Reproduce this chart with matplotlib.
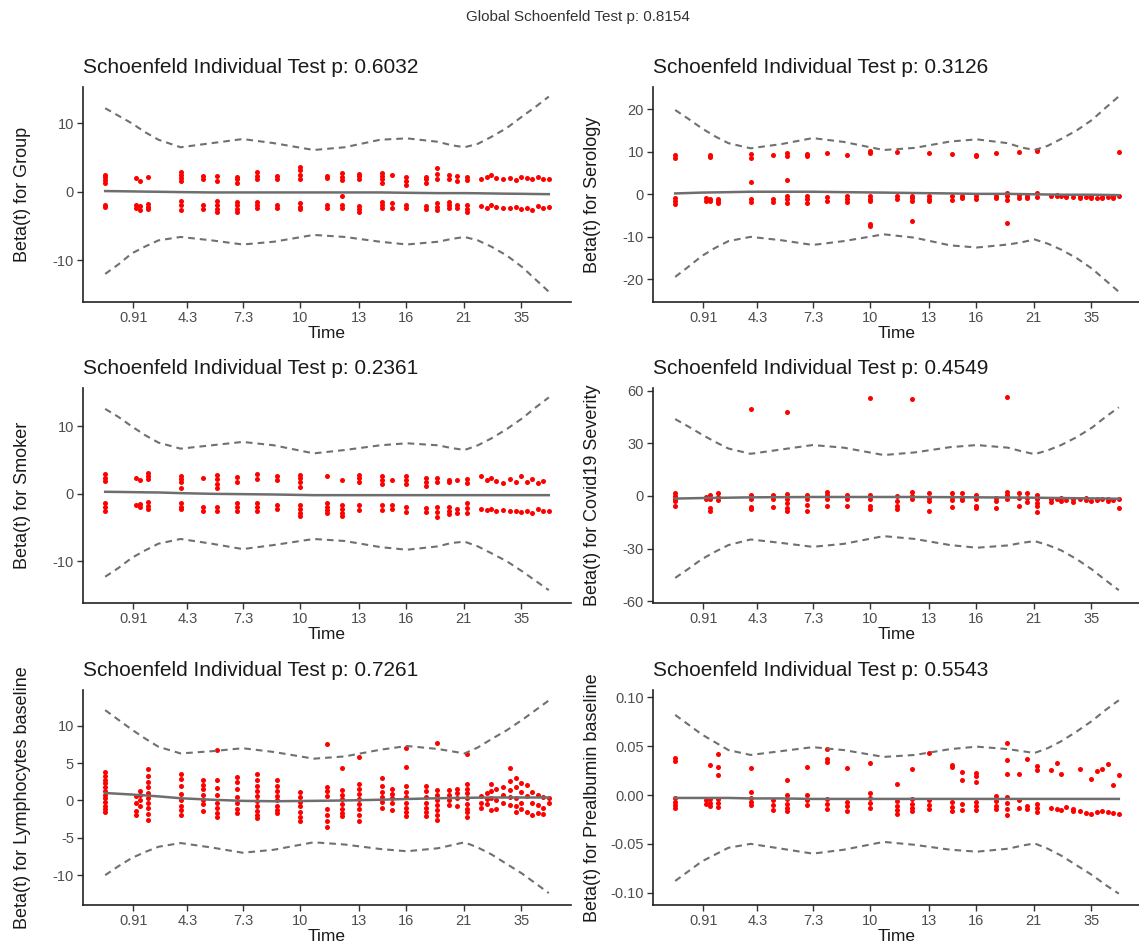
import numpy as np
import matplotlib
matplotlib.use("Agg")
import matplotlib.pyplot as plt

plt.rcParams['font.family'] = ['Liberation Sans', 'DejaVu Sans']
plt.rcParams['axes.unicode_minus'] = False

global_p = "0.8154"

# event times on the transformed (km) time axis, 0 = first event, 100 = last event
event_pos = [0, 7.0, 7.8, 9.7, 17.0, 22.0, 25.3, 29.8, 34.2, 38.7, 44.0, 50.0, 53.3,
             57.2, 62.3, 64.6, 67.9, 72.4, 74.9, 77.4, 79.4, 81.5, 84.8, 86.0, 87.0,
             88.2, 89.7, 91.2, 92.7, 93.8, 95.0, 96.3, 97.5, 98.8, 100]
tick_pos = [6.3, 18.5, 31.1, 44.0, 57.2, 67.9, 80.8, 93.8]
tick_labels = ["0.91", "4.3", "7.3", "10", "13", "16", "21", "35"]

# positions where the spline fit and its bands were read
curve_pos = [0, 3, 6, 9, 12, 17, 24, 31, 38, 47, 54, 62, 68, 75, 78, 81, 84, 87, 90.5, 94, 97, 100]

covariates = ["Group", "Serology", "Smoker", "Covid19 Severity",
              "Lymphocytes baseline", "Prealbumin baseline"]
p_values = ["0.6032", "0.3126", "0.2361", "0.4549", "0.7261", "0.5543"]

# scaled Schoenfeld residuals, one list per event time
resid_group = [
    [1.3, 1.7, 2.1, 2.5, -2.0, -2.2], [2.0, -1.9, -2.4], [1.5, -2.1, -2.6],
    [2.1, -1.8, -2.2, -2.5], [1.5, 2.0, 2.5, 2.9, -1.3, -2.0, -2.6], [1.9, 2.3, -2.0, -2.5],
    [1.6, 2.3, -1.3, -1.9, -2.5, -2.9], [1.3, 1.8, 2.2, -1.5, -2.0, -2.5, -2.9],
    [1.8, 2.3, 2.9, -1.5, -2.0, -2.4], [1.8, 2.3, -1.9, -2.3],
    [1.8, 2.4, 3.2, 3.6, -1.6, -2.2, -2.5], [2.0, 2.3, -1.9, -2.4],
    [1.7, 2.2, 2.7, -0.6, -2.0, -2.3], [1.8, 2.3, 2.6, -2.1, -2.5, -2.9],
    [1.3, 1.8, 2.3, 2.7, -1.5, -2.0, -2.4], [2.5, -1.7, -2.3], [1.0, 1.6, 2.2, -1.9, -2.3],
    [1.3, 1.8, 2.1, -2.1, -2.5], [1.8, 2.6, 3.5, -1.7, -2.2, -2.6], [1.8, 2.4, -1.5, -2.0, -2.3],
    [1.6, 2.3, -2.0, -2.4], [1.7, 2.1, -2.0, -2.5, -2.9],
    [1.9, -2.1], [2.2, -2.3], [2.5, -2.0], [2.0, -2.2], [1.8, -2.4], [2.0, -2.3], [1.7, -2.2],
    [2.1, -2.5], [2.0, -2.3], [1.8, -2.6], [2.2, -2.1], [1.9, -2.4], [1.9, -2.2]]
resid_serology = [
    [8.6, 9.2, -0.8, -1.5, -2.3], [-0.9, -1.5], [8.8, 9.3, -1.0, -1.6], [-1.0, -1.5, -2.1],
    [8.6, 9.4, 2.8, -1.0, -1.7], [9.3, -1.0, -1.9], [9.0, 9.6, 3.4, -0.5, -1.2, -2.0],
    [9.1, 9.5, -0.5, -1.2, -2.0], [9.7, -0.6, -1.6], [9.3, -0.4, -1.2, -1.7],
    [9.7, 10.1, -0.3, -1.0, -1.6, -7.0, -7.4], [10.0, -0.3, -1.1], [-0.3, -0.9, -1.6, -6.3],
    [9.8, -0.3, -1.0, -1.6], [9.4, -0.4, -1.4], [-0.4, -0.9], [8.9, 9.3, -0.3, -1.2],
    [9.6, -0.3, -0.8], [0.2, -0.5, -1.4, -6.7], [10.0, -0.2, -0.9], [-0.3, -0.8],
    [10.1, 10.3, 0.2, -0.6],
    [-0.3], [-0.5, -0.2], [-0.4], [-0.3, -0.7], [-0.6], [-0.4, -0.8], [-0.7], [-0.5, -0.9],
    [-0.8], [-0.9, -0.6], [-0.7], [-0.5, -0.8], [10.0, -0.4]]
resid_smoker = [
    [1.9, 2.4, 2.9, -1.3, -1.9, -2.5], [2.3, -1.6], [2.0, -1.5, -1.9],
    [2.2, 2.7, 3.1, -1.2, -1.8, -2.3], [1.7, 2.2, 2.6, 0.9, -1.4, -1.9, -2.3], [2.4, -1.9, -2.5],
    [0.9, 1.5, 2.2, 2.8, -1.9, -2.5], [1.7, 2.5, -1.4, -2.0, -2.5], [2.2, 2.9, -1.4, -2.0, -2.5],
    [2.1, 2.6, -1.7, -2.3], [1.0, 1.7, 2.3, 2.8, -1.6, -2.3, -2.9, -3.3],
    [2.6, -1.4, -1.9, -2.4, -2.8], [2.1, -1.6, -2.3, -2.9, -3.3], [1.7, 2.3, 2.8, -1.7, -2.4],
    [1.5, 2.1, 2.6, -1.7, -2.4], [2.1, -1.7, -2.3], [1.5, 2.1, 2.6, -2.0, -2.7],
    [1.2, 1.8, 2.3, -2.1, -2.7], [1.7, 2.3, -1.9, -2.7, -3.5], [1.7, 2.1, -1.9, -2.5, -3.0],
    [2.0, -2.3, -2.8], [1.6, 2.2, -1.4, -2.1, -2.8],
    [2.6, -2.2], [2.0, -2.4], [2.3, -2.3], [1.9, -2.5], [1.6, -2.4], [2.2, -2.6], [1.7, -2.5],
    [2.6, -2.7], [1.8, -2.5], [2.2, -2.8], [1.6, -2.3], [1.9, -2.6], [-2.5]]
resid_covid = [
    [1.5, 0.0, -1.5, -3.0, -6.0], [-0.5, -2.0], [0.5, -1.5, -7.0, -8.5], [1.5, -0.5, -2.5],
    [49.5, 0.5, -2.0, -6.5, -7.6], [0.5, -2.0, -6.5], [48.0, 1.0, -1.5, -4.0, -7.0, -8.5],
    [0.5, -2.0, -5.0, -8.5], [2.5, 0.5, -2.0, -5.5], [0.5, -2.0, -5.5],
    [55.8, 0.5, -2.0, -6.0, -7.5], [0.0, -3.0, -6.0, -7.5], [55.2, 2.0, 0.0, -1.5],
    [1.5, -1.0, -3.0, -8.5], [1.5, -0.5, -2.5, -6.5], [1.5, -1.0, -2.5], [0.5, -2.0, -6.0, -7.0],
    [-1.0, -3.0, -7.0], [56.2, 2.5, 0.5, -2.0], [1.5, -1.0, -5.5], [1.5, -1.0, -3.5],
    [0.5, -1.5, -4.0, -6.0, -9.0],
    [-2.0, -3.5], [-1.5], [-1.0, -3.0], [-2.5], [-1.5, -3.5], [-2.0], [-2.5, -1.0], [-3.0],
    [-1.5, -2.5], [-2.0], [-3.0, -1.5], [-2.5], [-7.0, -2.0]]
resid_lymph = [
    [3.8, 3.3, 2.8, 2.3, 1.8, 1.3, 0.8, 0.3, -0.2, -0.7, -1.2, -1.5], [0.6, -0.4, -1.4, -2.0],
    [1.3, 0.7, 0.0, -0.8], [4.2, 3.3, 2.5, 1.8, 1.0, 0.4, -0.3, -1.0, -1.8, -2.6],
    [3.6, 2.9, 2.0, 0.9, 0.0, -0.8, -1.3, -1.9], [2.7, 2.1, 1.5, 0.8, 0.1, -0.5, -1.4],
    [6.7, 2.8, 1.7, 0.7, -0.3, -1.0, -1.7, -2.2], [3.1, 2.5, 1.5, 0.5, -0.4, -1.1, -1.7],
    [3.6, 2.8, 2.0, 1.3, 0.6, -0.1, -0.8, -1.4, -2.0, -2.4],
    [2.7, 2.0, 1.3, 0.6, 0.0, -0.7, -1.3, -1.7], [1.1, 0.5, -0.2, -0.8, -1.5, -2.2, -2.8],
    [7.6, 1.8, 1.3, 0.6, -1.2, -1.9, -2.8, -3.5], [4.3, 1.4, 0.8, 0.2, -0.5, -1.1, -1.7, -2.1],
    [5.8, 2.2, 1.6, 0.9, 0.2, -0.5, -1.2, -2.0, -2.7], [3.0, 1.9, 1.2, 0.5, -0.2, -1.0],
    [1.6, 0.9, 0.3, -0.4, -1.3], [7.0, 4.5, 1.9, 1.2, 0.5, -0.3, -1.0, -1.6, -2.1],
    [2.0, 1.3, 0.5, -0.3, -1.0, -1.6, -2.1], [7.7, 1.4, 0.8, 0.1, -0.6, -1.3, -2.0, -2.6],
    [1.4, 0.7, 0.0, -0.6], [1.6, 1.0, 0.3, -0.8], [6.2, 2.2, 1.6, 1.0, 0.3, -0.5, -1.1, -1.6, -2.2],
    [0.6, -0.3, -1.0], [1.0, 0.2, -0.5], [2.2, 1.3, 0.4, -1.3], [1.5, 0.0, -1.2], [1.8, 0.8, -0.4],
    [4.3, 2.6, 1.4, 0.5, -0.6], [3.0, 1.8, 0.3, -0.8, -1.5], [2.3, 1.2, -0.3, -1.2],
    [2.1, 0.6, -1.6], [1.2, -0.4, -1.9], [0.8, -0.6, -1.7], [0.5, -1.0, -1.8], [0.3, -0.3]]
resid_prealb = [
    [0.038, 0.035, -0.003, -0.007, -0.010, -0.013], [-0.005, -0.009], [0.031, -0.004, -0.008, -0.011],
    [0.042, 0.029, 0.020, -0.004, -0.008, -0.012], [0.028, 0.003, -0.003, -0.007, -0.010],
    [-0.005, -0.010, -0.015], [0.015, 0.0, -0.004, -0.009, -0.013, -0.016], [0.029, 0.0, -0.005, -0.010],
    [0.047, 0.037, 0.034, -0.004, -0.009, -0.014], [0.028, -0.007, -0.011, -0.016],
    [0.033, 0.002, -0.003, -0.008, -0.013], [0.011, -0.006, -0.011, -0.015, -0.019],
    [0.027, -0.004, -0.009, -0.013, -0.016], [0.043, -0.005, -0.010, -0.014],
    [0.031, 0.029, -0.007, -0.012, -0.016], [0.024, 0.015, -0.009, -0.015],
    [0.023, 0.019, 0.013, -0.007, -0.011, -0.015], [-0.001, -0.006, -0.011, -0.014],
    [0.053, 0.036, 0.022, -0.002, -0.008, -0.014, -0.020], [0.022, -0.005, -0.013],
    [0.037, -0.011, -0.014], [0.030, 0.026, -0.009, -0.013, -0.017],
    [0.026, -0.013], [0.033, -0.014], [0.021, -0.015], [-0.012], [-0.014, -0.016], [0.027, -0.016],
    [-0.018], [0.016, -0.019], [0.025, -0.017], [0.027, -0.016], [0.032, -0.017], [0.010, -0.018],
    [0.020, -0.019]]

# spline fit and +-2 se bands, read at curve_pos
fit_group = [0.1, 0.08, 0.05, 0.02, 0, -0.05, -0.1, -0.1, -0.1, -0.1, -0.1, -0.1,
             -0.15, -0.2, -0.2, -0.2, -0.22, -0.25, -0.28, -0.3, -0.33, -0.35]
up_group = [12.2, 11.1, 10.0, 8.7, 7.6, 6.5, 7.1, 7.7, 7.1, 6.1, 6.5, 7.6,
            7.8, 7.3, 6.8, 6.5, 7.0, 8.0, 9.3, 11.0, 12.4, 13.9]
lo_group = [-12.0, -10.6, -9.0, -8.0, -7.1, -6.6, -7.1, -7.7, -7.3, -6.3, -6.6, -7.3,
            -7.7, -7.3, -6.9, -6.6, -7.1, -8.0, -9.3, -11.0, -12.8, -14.6]

fit_serology = [0.2, 0.3, 0.4, 0.45, 0.5, 0.6, 0.6, 0.6, 0.5, 0.4, 0.3, 0.2,
                0.1, 0.1, 0.05, 0.0, -0.05, -0.1, -0.1, -0.1, -0.15, -0.2]
up_serology = [19.8, 17.7, 15.5, 13.6, 12.0, 10.8, 11.8, 13.2, 12.3, 10.4, 10.9, 12.4,
               12.9, 12.0, 11.0, 10.4, 11.4, 13.0, 15.0, 17.5, 20.3, 23.0]
lo_serology = [-19.4, -17.0, -14.5, -12.6, -11.0, -10.0, -10.8, -11.9, -11.0, -9.4, -10.2, -12.0,
               -12.5, -11.8, -11.3, -10.6, -11.6, -13.0, -15.0, -17.5, -20.2, -22.9]

fit_smoker = [0.3, 0.28, 0.25, 0.22, 0.2, 0.1, 0.0, -0.05, -0.1, -0.2, -0.2, -0.2,
              -0.2, -0.2, -0.2, -0.2, -0.2, -0.2, -0.2, -0.2, -0.2, -0.2]
up_smoker = [12.6, 11.4, 10.0, 8.7, 7.6, 6.7, 7.2, 7.7, 7.2, 6.0, 6.5, 7.2,
             7.5, 7.2, 6.8, 6.5, 7.2, 8.2, 9.6, 11.2, 12.8, 14.3]
lo_smoker = [-12.3, -11.0, -9.5, -8.4, -7.4, -6.7, -7.4, -8.2, -7.6, -6.7, -7.0, -7.9,
             -8.3, -7.8, -7.3, -7.1, -7.8, -8.8, -10.0, -11.5, -12.9, -14.3]

fit_covid = [-1.5, -1.35, -1.2, -1.1, -1.0, -0.8, -0.7, -0.6, -0.6, -0.6, -0.6, -0.7,
             -0.8, -0.9, -0.95, -1.0, -1.1, -1.2, -1.3, -1.4, -1.5, -1.6]
up_covid = [43.8, 39.5, 35.0, 30.8, 27.0, 24.0, 26.5, 29.0, 27.5, 23.3, 24.8, 27.8,
            29.0, 27.5, 25.5, 23.8, 26.0, 29.0, 33.5, 39.0, 45.0, 50.5]
lo_covid = [-46.7, -41.5, -36.0, -31.8, -28.0, -24.8, -26.8, -29.0, -27.3, -22.9, -24.5, -28.0,
            -29.5, -28.2, -26.8, -25.7, -28.0, -31.0, -36.0, -42.0, -48.0, -53.7]

fit_lymph = [1.0, 0.9, 0.8, 0.68, 0.55, 0.3, 0.1, -0.05, -0.1, -0.05, 0.0, 0.1,
             0.2, 0.3, 0.33, 0.35, 0.38, 0.4, 0.4, 0.4, 0.4, 0.4]
up_lymph = [12.1, 10.8, 9.5, 8.3, 7.2, 6.3, 6.6, 7.0, 6.5, 5.6, 5.9, 6.8,
            7.3, 6.9, 6.6, 6.3, 7.1, 8.2, 9.4, 10.8, 12.1, 13.4]
lo_lymph = [-10.0, -8.8, -7.7, -6.9, -6.2, -5.7, -6.3, -7.0, -6.6, -5.6, -5.9, -6.5,
            -6.8, -6.4, -6.0, -5.6, -6.3, -7.2, -8.5, -9.8, -11.1, -12.4]

fit_prealb = [-0.003, -0.003, -0.003, -0.003, -0.003, -0.0035, -0.0035, -0.004, -0.004, -0.004, -0.004,
              -0.004, -0.004, -0.004, -0.004, -0.004, -0.004, -0.004, -0.004, -0.004, -0.004, -0.004]
up_prealb = [0.082, 0.072, 0.062, 0.054, 0.046, 0.041, 0.045, 0.049, 0.046, 0.039, 0.041, 0.047,
             0.0495, 0.047, 0.045, 0.043, 0.048, 0.055, 0.065, 0.076, 0.087, 0.097]
lo_prealb = [-0.088, -0.078, -0.068, -0.061, -0.054, -0.050, -0.055, -0.060, -0.056, -0.048, -0.051, -0.056,
             -0.058, -0.055, -0.052, -0.0495, -0.055, -0.062, -0.072, -0.082, -0.092, -0.101]

panels = [
    (resid_group, fit_group, up_group, lo_group, [-10, 0, 10], (-16.1, 15.3), "{:.0f}"),
    (resid_serology, fit_serology, up_serology, lo_serology, [-20, -10, 0, 10, 20], (-25.3, 25.2), "{:.0f}"),
    (resid_smoker, fit_smoker, up_smoker, lo_smoker, [-10, 0, 10], (-16.2, 15.7), "{:.0f}"),
    (resid_covid, fit_covid, up_covid, lo_covid, [-60, -30, 0, 30, 60], (-61.0, 61.5), "{:.0f}"),
    (resid_lymph, fit_lymph, up_lymph, lo_lymph, [-10, -5, 0, 5, 10], (-14.0, 14.8), "{:.0f}"),
    (resid_prealb, fit_prealb, up_prealb, lo_prealb, [-0.10, -0.05, 0.0, 0.05, 0.10], (-0.1126, 0.1075), "{:.2f}"),
]

W, H = 1139, 951
fig = plt.figure(figsize=(W / 100, H / 100), dpi=100)
fig.text(0.507, 0.982, "Global Schoenfeld Test p: " + global_p, ha='center', va='center',
         fontsize=11, color='#333333')

col_left = [83, 653]
row_bottom = [302, 603, 905]
pw, ph = 488, 215

for i, (resid, fit, up, lo, yticks, ylim, fmt) in enumerate(panels):
    r, c = divmod(i, 2)
    ax = fig.add_axes([col_left[c] / W, 1 - row_bottom[r] / H, pw / W, ph / H])
    xs = [event_pos[k] for k, col in enumerate(resid) for _ in col]
    ys = [v for col in resid for v in col]
    ax.scatter(xs, ys, s=13, color='#FF0000', linewidths=0, zorder=2)
    ax.plot(curve_pos, fit, color='#6e6e6e', lw=1.8, zorder=3)
    ax.plot(curve_pos, up, color='#707070', lw=1.5, dashes=(3.2, 2.4), zorder=3)
    ax.plot(curve_pos, lo, color='#707070', lw=1.5, dashes=(3.2, 2.4), zorder=3)

    ax.set_xlim(-5, 105)
    ax.set_ylim(*ylim)
    ax.set_xticks(tick_pos)
    ax.set_xticklabels(tick_labels)
    ax.set_yticks(yticks)
    ax.set_yticklabels([fmt.format(t) for t in yticks])
    for s in ['top', 'right']:
        ax.spines[s].set_visible(False)
    for s in ['left', 'bottom']:
        ax.spines[s].set_linewidth(1.2)
        ax.spines[s].set_color('#222222')
    ax.tick_params(length=4, width=1, color='#333333', labelcolor='#4D4D4D',
                   labelsize=10.5, pad=2.5)

    ax.set_title("Schoenfeld Individual Test p: " + p_values[i], loc='left',
                 fontsize=15, pad=10, color='#1a1a1a')
    ax.set_ylabel("Beta(t) for " + covariates[i], fontsize=13, color='#1a1a1a')
    ax.yaxis.set_label_coords(-0.107, 0.5)
    ax.set_xlabel("Time", fontsize=12.5, color='#1a1a1a')
    ax.xaxis.set_label_coords(0.5, -0.112)

fig.savefig("out.png", dpi=100)
